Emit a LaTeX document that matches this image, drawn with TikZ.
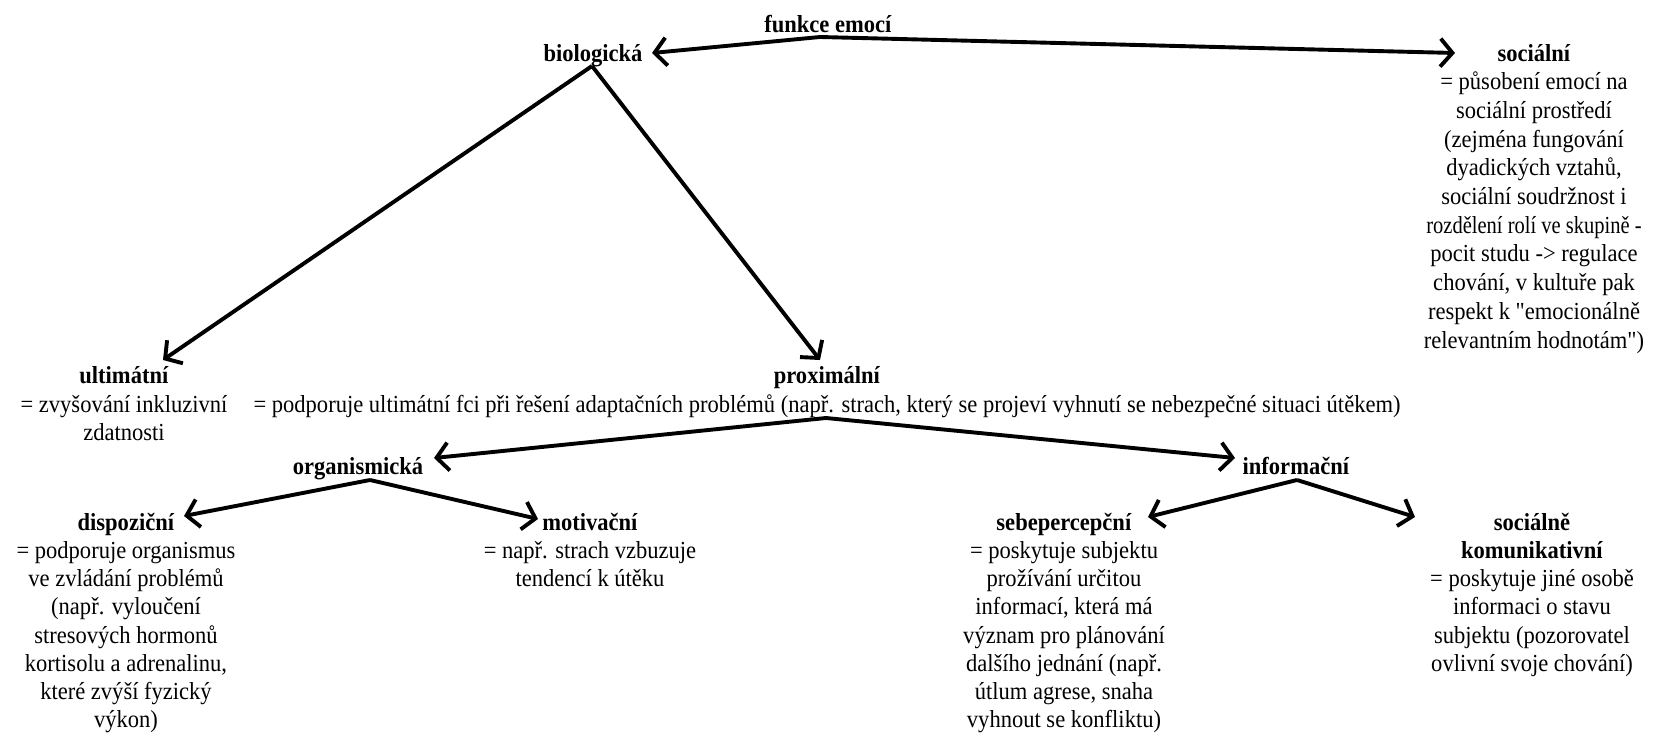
\documentclass[tikz,border=0pt]{standalone}
\usepackage{fontspec}
\usepackage{graphicx}
\setmainfont{Liberation Serif}[FakeStretch=0.92, Ligatures=TeXOff]
\usetikzlibrary{arrows.meta}
\newcommand\fsz{\fontsize{24.5}{28.7}\selectfont}
\newcommand\fszb{\fontsize{24.5}{28.2}\selectfont}
\tikzset{
  tx/.style={align=center, inner sep=0pt, outer sep=0pt, anchor=north, font=\fsz},
  txb/.style={tx, font=\fszb},
  arr/.style={line width=3.9pt, line join=round, -{Straight Barb[length=12pt,width=28pt,line width=3.9pt]}},
}
\begin{document}
\begin{tikzpicture}[x=1pt,y=-1pt]
\useasboundingbox[fill=white] (0,0) rectangle (1653,735);
% text nodes
\node[tx] (fe) at (828,12) {\strut\textbf{funkce emocí}};
\node[tx] (bio) at (593,41) {\strut\textbf{biologická}};
\node[tx] (soc) at (1534,41) {\strut\textbf{sociální}\\= působení emocí na\\sociální prostředí\\(zejména fungování\\dyadických vztahů,\\sociální soudržnost i\\\scalebox{0.91}[1]{rozdělení rolí ve skupině -}\\pocit studu -> regulace\\chování, v kultuře pak\\respekt k "emocionálně\\relevantním hodnotám")};
\node[tx] (ult) at (124,363.5) {\strut\textbf{ultimátní}\\= zvyšování inkluzivní\\zdatnosti};
\node[tx] (prox) at (827,363.5) {\strut\textbf{proximální}\\= podporuje ultimátní fci při řešení adaptačních problémů (např. strach, který se projeví vyhnutí se nebezpečné situaci útěkem)};
\node[tx] (org) at (358,454.5) {\strut\textbf{organismická}};
\node[tx] (inf) at (1296,454.5) {\strut\textbf{informační}};
\node[txb] (dis) at (126,510.5) {\strut\textbf{dispoziční}\\= podporuje organismus\\ve zvládání problémů\\(např. vyloučení\\stresových hormonů\\kortisolu a adrenalinu,\\které zvýší fyzický\\výkon)};
\node[txb] (mot) at (590,510.5) {\strut\textbf{motivační}\\= např. strach vzbuzuje\\tendencí k útěku};
\node[txb] (seb) at (1064,510.5) {\strut\textbf{sebepercepční}\\= poskytuje subjektu\\prožívání určitou\\informací, která má\\význam pro plánování\\dalšího jednání (např.\\útlum agrese, snaha\\vyhnout se konfliktu)};
\node[txb] (sk) at (1532,510.5) {\strut\textbf{sociálně}\\\textbf{komunikativní}\\= poskytuje jiné osobě\\informaci o stavu\\subjektu (pozorovatel\\ovlivní svoje chování)};
% connector points
\coordinate (aF) at (820,37);
\coordinate (tBio) at (652,53);
\coordinate (tSoc) at (1455,53);
\coordinate (aB) at (592,66);
\coordinate (tUlt) at (163,360);
\coordinate (tProx) at (820,360);
\coordinate (aP) at (826,418);
\coordinate (tOrg) at (434,458);
\coordinate (tInf) at (1235,458);
\coordinate (aO) at (370,480);
\coordinate (tDis) at (184,516);
\coordinate (tMot) at (538,519);
\coordinate (aI) at (1297,480);
\coordinate (tSeb) at (1148,517);
\coordinate (tSk) at (1415,517);
% connectors
\draw[arr] (aF) -- (tBio);
\draw[arr] (aF) -- (tSoc);
\draw[arr] (aB) -- (tUlt);
\draw[arr] (aB) -- (tProx);
\draw[arr] (aP) -- (tOrg);
\draw[arr] (aP) -- (tInf);
\draw[arr] (aO) -- (tDis);
\draw[arr] (aO) -- (tMot);
\draw[arr] (aI) -- (tSeb);
\draw[arr] (aI) -- (tSk);
\end{tikzpicture}
\end{document}
